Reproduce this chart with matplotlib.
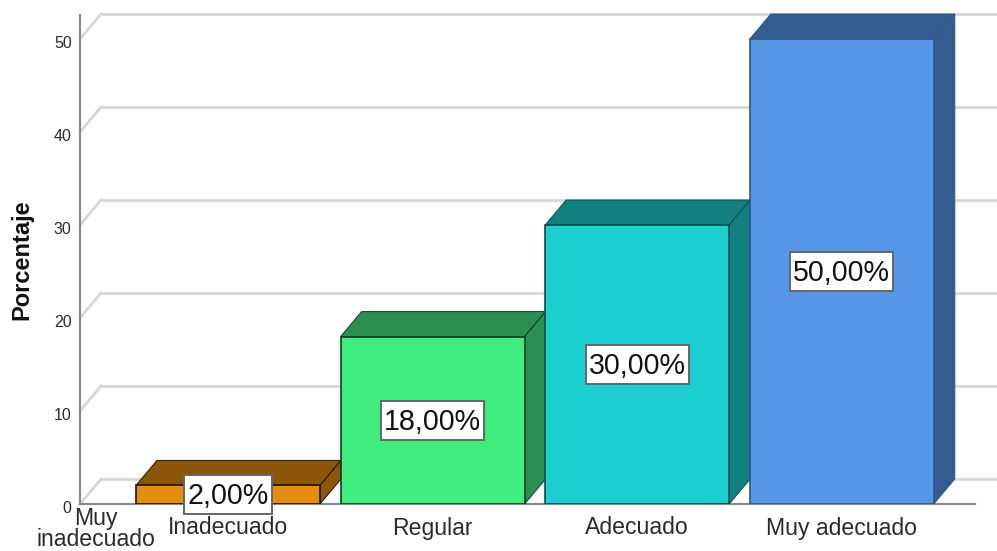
import matplotlib
matplotlib.use("Agg")
import matplotlib.pyplot as plt
from matplotlib.patches import Rectangle
from matplotlib.transforms import ScaledTranslation

plt.rcParams["font.family"] = ["Liberation Sans", "DejaVu Sans"]

# Percentages per response level
CATEGORIES = ["Muy\ninadecuado", "Inadecuado", "Regular", "Adecuado", "Muy adecuado"]
VALUES = [2, 18, 30, 50]
VALUE_LABELS = ["2,00%", "18,00%", "30,00%", "50,00%"]
Y_TICKS = [0, 10, 20, 30, 40, 50]

FRONT_COLORS = ["#E38C10", "#40EE80", "#1CCFD0", "#5596E6"]
DARK_COLORS = ["#8B5608", "#2A8F50", "#118080", "#335C8F"]
EDGE_COLORS = ["#1c1204", "#143c22", "#0c4c4c", "#2f5788"]

W, H = 997, 551
AX_LEFT, AX_BASE = 80, 504
PX_PER_UNIT = 9.3
PX_PER_CAT = 204.6
FIRST_CENTER = 228

# depth of the pseudo 3D extrusion, in data units
DEPTH_X = 21 / PX_PER_CAT
DEPTH_Y = 25 / PX_PER_UNIT
BAR_WIDTH = 184 / PX_PER_CAT

GRID_COLOR = "#d6d6d6"
AXIS_COLOR = "#8a8a8a"
TEXT_COLOR = "#2b2b2b"

fig = plt.figure(figsize=(W / 100, H / 100), dpi=100)
ax = fig.add_axes([AX_LEFT / W, (H - AX_BASE) / H, (W - AX_LEFT) / W, AX_BASE / H])
xmin = 1 + (AX_LEFT - FIRST_CENTER) / PX_PER_CAT
xmax = 1 + (W - FIRST_CENTER) / PX_PER_CAT
ax.set_xlim(xmin, xmax)
ax.set_ylim(0, AX_BASE / PX_PER_UNIT)

for spine in ax.spines.values():
    spine.set_visible(False)

# back wall gridlines and the slanted pieces on the side wall
for tick in Y_TICKS:
    ax.plot([xmin + DEPTH_X, xmax], [tick + DEPTH_Y] * 2, color=GRID_COLOR, lw=2,
            solid_capstyle="butt", clip_on=False, zorder=1)
    ax.plot([xmin, xmin + DEPTH_X], [tick, tick + DEPTH_Y], color=GRID_COLOR, lw=2,
            clip_on=False, zorder=1)

# axis lines
top_of_axis = (AX_BASE - 15) / PX_PER_UNIT
ax.plot([xmin, xmin], [0, top_of_axis], color=AXIS_COLOR, lw=1.6, clip_on=False, zorder=2)
ax.plot([xmin, xmax - 22 / PX_PER_CAT], [0, 0], color=AXIS_COLOR, lw=1.6, clip_on=False, zorder=2)

# bars: front face plus darker top and side faces
positions = [1, 2, 3, 4]
for pos, val, front, dark, edge in zip(positions, VALUES, FRONT_COLORS, DARK_COLORS, EDGE_COLORS):
    x0 = pos - BAR_WIDTH / 2
    x1 = pos + BAR_WIDTH / 2
    ax.fill([x0, x1, x1 + DEPTH_X, x0 + DEPTH_X], [val, val, val + DEPTH_Y, val + DEPTH_Y],
            facecolor=dark, edgecolor=edge, lw=0.7, clip_on=False, zorder=3)
    ax.fill([x1, x1 + DEPTH_X, x1 + DEPTH_X, x1], [0, DEPTH_Y, val + DEPTH_Y, val],
            facecolor=dark, edgecolor=edge, lw=0.7, clip_on=False, zorder=3)
    ax.bar(pos, val, width=BAR_WIDTH, color=front, edgecolor=edge, linewidth=1.2, zorder=4)

# value labels: the box is sized from the text width so it can be taller than a text bbox
renderer = fig.canvas.get_renderer()
for pos, val, label in zip(positions, VALUES, VALUE_LABELS):
    txt = ax.text(pos, val / 2 - 0.15, label, ha="center", va="center",
                  fontsize=20.6, color="#111111", zorder=6)
    box_w = (txt.get_window_extent(renderer).width + 6) / PX_PER_CAT
    box_h = 39 / PX_PER_UNIT
    ax.add_patch(Rectangle((pos - box_w / 2, val / 2 - box_h / 2), box_w, box_h,
                           facecolor="white", edgecolor="#666666", lw=1.4,
                           clip_on=False, zorder=5))

# tick labels
ax.set_yticks(Y_TICKS)
ax.set_yticklabels([str(t) for t in Y_TICKS], fontsize=11.5, color=TEXT_COLOR)
ax.tick_params(axis="y", length=0, pad=6)
nudge = ScaledTranslation(0, -3 / 100, fig.dpi_scale_trans)
for label in ax.get_yticklabels():
    label.set_transform(label.get_transform() + nudge)

first_pos = 1 + (96 - FIRST_CENTER) / PX_PER_CAT
ax.set_xticks([first_pos] + positions)
ax.set_xticklabels(CATEGORIES, fontsize=16.6, color=TEXT_COLOR, linespacing=0.9)
ax.tick_params(axis="x", length=0)
for i, tick in enumerate(ax.xaxis.get_major_ticks()):
    tick.set_pad(2 if i == 0 else 9)

fig.text(22 / W, 1 - 260 / H, "Porcentaje", rotation=90, ha="center", va="center",
         fontsize=17, fontweight="bold", color="#111111")

fig.savefig("out.png", dpi=100, facecolor="white")
